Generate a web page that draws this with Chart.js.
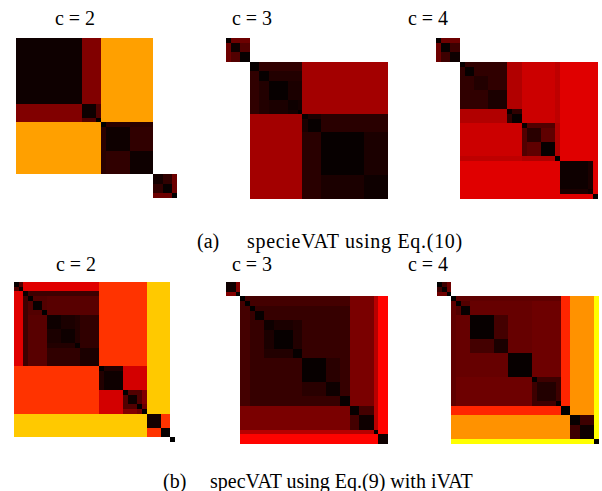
<!DOCTYPE html>
<html>
<head>
<meta charset="utf-8">
<script src="https://cdn.jsdelivr.net/npm/chart.js@4/dist/chart.umd.min.js"></script>
<style>
  body { margin: 0; background: #fff; }
  #page { position: relative; width: 602px; height: 491px; overflow: hidden; }
  canvas { position: absolute; }
  .txt { position: absolute; font-family: "Liberation Serif", "Times New Roman", serif;
         font-size: 20px; line-height: 20px; color: #000; white-space: nowrap; }
  .ttl { width: 200px; text-align: center; }
  .wide { letter-spacing: 0.7px; }
</style>
</head>
<body>
<div id="page"></div>
<script>
// cluster sizes (objects per block, in VAT order) and block dissimilarities (0-100),
// upper triangle per row, mirrored below the diagonal
const sizes1 = [66, 14, 5, 5, 24, 23, 10, 9, 5];
const upper1 = [
  [2, 19, 19, 61, 61, 61, 100, 100, 100],
  [2, 12, 61, 61, 61, 100, 100, 100],
  [0, 61, 61, 61, 100, 100, 100],
  [0, 6, 6, 100, 100, 100],
  [2, 7, 100, 100, 100],
  [2, 100, 100, 100],
  [3, 7, 16],
  [1, 16],
  [0]
];

const sizes2 = [5, 9, 10, 9, 10, 19, 10, 4, 6, 13, 43, 24];
const upper2 = [
  [1, 16, 16, 100, 100, 100, 100, 100, 100, 100, 100, 100],
  [2, 12, 100, 100, 100, 100, 100, 100, 100, 100, 100],
  [1, 100, 100, 100, 100, 100, 100, 100, 100, 100],
  [1, 7, 7, 7, 7, 24, 24, 24, 24],
  [1, 5, 5, 5, 24, 24, 24, 24],
  [1, 4, 4, 24, 24, 24, 24],
  [2, 3, 24, 24, 24, 24],
  [0, 24, 24, 24, 24],
  [1, 4, 6, 6],
  [1, 6, 6],
  [1, 4],
  [2]
];

const sizes3 = [5, 9, 10, 5, 9, 14, 19, 5, 10, 5, 14, 14, 5, 28, 5, 5];
const upper3 = [
  [1, 16, 16, 100, 100, 100, 100, 100, 100, 100, 100, 100, 100, 100, 100, 100],
  [1, 9, 100, 100, 100, 100, 100, 100, 100, 100, 100, 100, 100, 100, 100],
  [2, 100, 100, 100, 100, 100, 100, 100, 100, 100, 100, 100, 100, 100],
  [1, 7, 7, 7, 26, 26, 30, 30, 30, 28, 33, 33, 33],
  [1, 7, 7, 26, 26, 30, 30, 30, 28, 33, 33, 33],
  [5, 7, 26, 26, 30, 30, 30, 28, 33, 33, 33],
  [4, 26, 26, 30, 30, 30, 28, 33, 33, 33],
  [1, 7, 30, 30, 30, 28, 33, 33, 33],
  [1, 30, 30, 30, 28, 33, 33, 33],
  [1, 12, 12, 26, 33, 33, 33],
  [6, 14, 26, 33, 33, 33],
  [1, 26, 33, 33, 33],
  [0, 33, 33, 33],
  [2, 4, 33],
  [2, 33],
  [0]
];

const sizes4 = [5, 4, 5, 5, 9, 5, 14, 14, 5, 19, 5, 19, 5, 9, 5, 5, 14, 9, 5];
const upper4 = [
  [1, 12, 33, 33, 33, 33, 33, 33, 33, 33, 45, 45, 45, 45, 45, 45, 67, 67, 100],
  [1, 33, 33, 33, 33, 33, 33, 33, 33, 45, 45, 45, 45, 45, 45, 67, 67, 100],
  [1, 9, 9, 9, 9, 9, 9, 9, 45, 45, 45, 45, 45, 45, 67, 67, 100],
  [0, 12, 12, 13, 13, 13, 13, 45, 45, 45, 45, 45, 45, 67, 67, 100],
  [1, 12, 13, 13, 13, 13, 45, 45, 45, 45, 45, 45, 67, 67, 100],
  [0, 13, 13, 13, 13, 45, 45, 45, 45, 45, 45, 67, 67, 100],
  [2, 4, 5, 7, 45, 45, 45, 45, 45, 45, 67, 67, 100],
  [2, 5, 7, 45, 45, 45, 45, 45, 45, 67, 67, 100],
  [1, 7, 45, 45, 45, 45, 45, 45, 67, 67, 100],
  [4, 45, 45, 45, 45, 45, 45, 67, 67, 100],
  [0, 5, 31, 31, 31, 31, 67, 67, 100],
  [2, 31, 31, 31, 31, 67, 67, 100],
  [0, 12, 12, 19, 67, 67, 100],
  [2, 12, 19, 67, 67, 100],
  [0, 16, 67, 67, 100],
  [0, 67, 67, 100],
  [3, 45, 100],
  [1, 100],
  [0]
];

const sizes5 = [10, 4, 5, 5, 5, 9, 10, 19, 9, 24, 14, 10, 9, 15, 4, 10];
const upper5 = [
  [2, 19, 100, 100, 100, 100, 100, 100, 100, 100, 100, 100, 100, 100, 100, 100],
  [0, 100, 100, 100, 100, 100, 100, 100, 100, 100, 100, 100, 100, 100, 100],
  [0, 10, 10, 10, 10, 10, 10, 10, 10, 10, 18, 18, 27, 38],
  [0, 10, 10, 10, 10, 10, 10, 10, 10, 18, 18, 27, 38],
  [0, 8, 8, 8, 8, 8, 8, 8, 18, 18, 27, 38],
  [1, 8, 8, 8, 8, 8, 8, 18, 18, 27, 38],
  [2, 4, 5, 8, 8, 8, 18, 18, 27, 38],
  [1, 5, 8, 8, 8, 18, 18, 27, 38],
  [1, 8, 8, 8, 18, 18, 27, 38],
  [1, 6, 8, 18, 18, 27, 38],
  [2, 8, 18, 18, 27, 38],
  [1, 18, 18, 27, 38],
  [1, 10, 27, 38],
  [2, 27, 38],
  [0, 38],
  [2]
];

const sizes6 = [5, 5, 4, 5, 5, 9, 24, 14, 24, 5, 19, 5, 9, 10, 14, 5];
const upper6 = [
  [0, 9, 16, 100, 100, 100, 100, 100, 100, 100, 100, 100, 100, 100, 100, 100],
  [1, 16, 100, 100, 100, 100, 100, 100, 100, 100, 100, 100, 100, 100, 100],
  [0, 100, 100, 100, 100, 100, 100, 100, 100, 100, 100, 100, 100, 100],
  [0, 14, 14, 14, 14, 14, 14, 14, 14, 43, 59, 59, 75],
  [0, 12, 15, 15, 15, 16, 16, 16, 43, 59, 59, 75],
  [1, 15, 15, 15, 16, 16, 16, 43, 59, 59, 75],
  [1, 10, 15, 16, 16, 16, 43, 59, 59, 75],
  [4, 15, 16, 16, 16, 43, 59, 59, 75],
  [1, 16, 16, 16, 43, 59, 59, 75],
  [0, 9, 9, 43, 59, 59, 75],
  [5, 9, 43, 59, 59, 75],
  [0, 43, 59, 59, 75],
  [0, 59, 59, 75],
  [1, 9, 75],
  [2, 75],
  [0]
];

const titles = ["c = 2", "c = 3", "c = 4"];
const captionA = ["(a)", "specieVAT using Eq.(10)"];
const captionB = ["(b)", "specVAT using Eq.(9) with iVAT"];

// matlab "hot" colormap
function hot(t) {
  const c = v => Math.round(255 * Math.max(0, Math.min(1, v)));
  return `rgb(${c(t / 0.375)},${c((t - 0.375) / 0.375)},${c((t - 0.75) / 0.25)})`;
}

function cellsFrom(sizes, upper) {
  const starts = [0];
  sizes.forEach(s => starts.push(starts[starts.length - 1] + s));
  const cells = [];
  for (let i = 0; i < sizes.length; i++) {
    for (let j = 0; j < sizes.length; j++) {
      const v = j >= i ? upper[i][j - i] : upper[j][i - j];
      cells.push({
        x: (starts[j] + starts[j + 1]) / 2, y: (starts[i] + starts[i + 1]) / 2,
        c0: starts[j], c1: starts[j + 1], r0: starts[i], r1: starts[i + 1], v: v
      });
    }
  }
  return { cells, n: starts[starts.length - 1] };
}

const heatmapPlugin = {
  id: "heatmap",
  beforeDatasetsDraw(chart) {
    const ctx = chart.ctx;
    const xs = chart.scales.x, ys = chart.scales.y;
    chart.data.datasets[0].data.forEach(d => {
      const x0 = Math.round(xs.getPixelForValue(d.c0));
      const x1 = Math.round(xs.getPixelForValue(d.c1));
      const y0 = Math.round(ys.getPixelForValue(d.r0));
      const y1 = Math.round(ys.getPixelForValue(d.r1));
      ctx.fillStyle = hot(d.v / 100);
      ctx.fillRect(x0, y0, x1 - x0, y1 - y0);
    });
  }
};

const page = document.getElementById("page");

function makePanel(sizes, upper, left, top, w, h) {
  const canvas = document.createElement("canvas");
  canvas.width = w; canvas.height = h;
  canvas.style.left = left + "px"; canvas.style.top = top + "px";
  canvas.style.width = w + "px"; canvas.style.height = h + "px";
  page.appendChild(canvas);
  const m = cellsFrom(sizes, upper);
  new Chart(canvas.getContext("2d"), {
    type: "scatter",
    data: { datasets: [{ data: m.cells, pointRadius: 0, showLine: false }] },
    options: {
      responsive: false,
      animation: false,
      devicePixelRatio: 1,
      layout: { padding: 0 },
      plugins: { legend: { display: false }, tooltip: { enabled: false } },
      scales: {
        x: { type: "linear", min: 0, max: m.n, display: false },
        y: { type: "linear", min: 0, max: m.n, reverse: true, display: false }
      }
    },
    plugins: [heatmapPlugin]
  });
}

makePanel(sizes1, upper1, 16, 38, 161, 160);
makePanel(sizes2, upper2, 226, 38, 162, 161);
makePanel(sizes3, upper3, 436, 38, 162, 161);
makePanel(sizes4, upper4, 14, 282, 161, 160);
makePanel(sizes5, upper5, 226, 282, 162, 162);
makePanel(sizes6, upper6, 437, 282, 162, 162);

function addText(str, left, top, cls) {
  const d = document.createElement("div");
  d.className = "txt " + (cls || "");
  d.style.left = left + "px"; d.style.top = top + "px";
  d.textContent = str;
  page.appendChild(d);
}

[75, 252, 428].forEach((cx, i) => addText(titles[i], cx - 100, 8, "ttl"));
[76, 252, 428].forEach((cx, i) => addText(titles[i], cx - 100, 254, "ttl"));
addText(captionA[0], 197, 231);
addText(captionA[1], 247, 231, "wide");
addText(captionB[0], 163, 471);
addText(captionB[1], 210, 471);
</script>
</body>
</html>
